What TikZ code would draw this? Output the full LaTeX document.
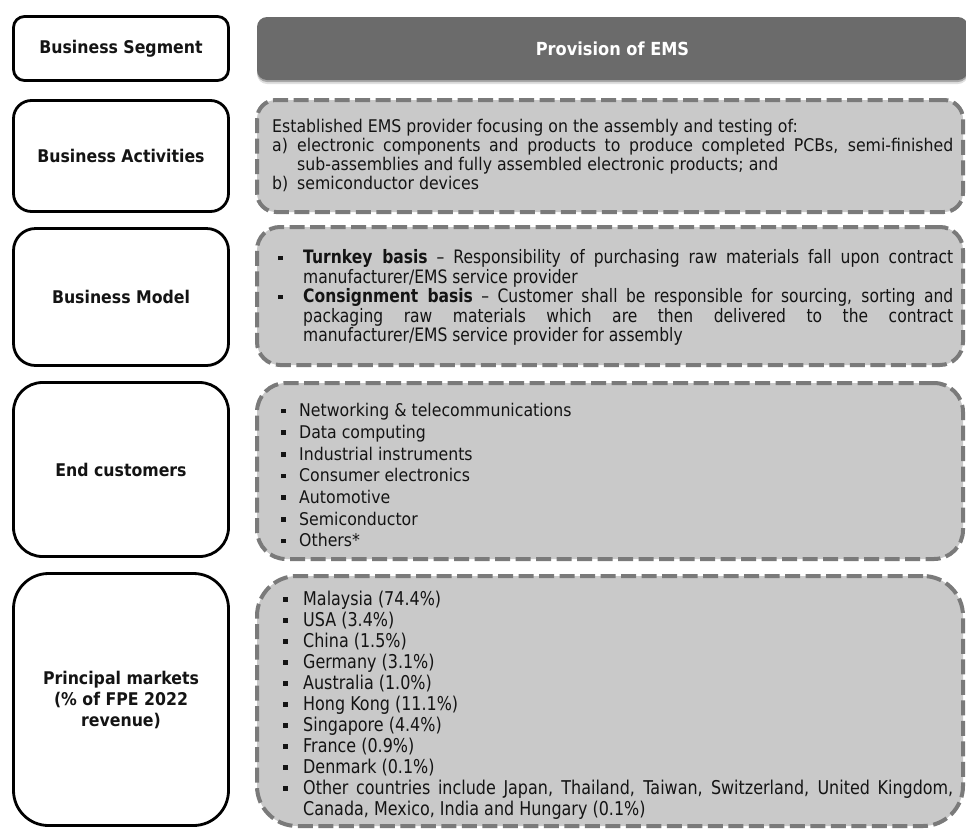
\documentclass[tikz,border=0pt]{standalone}
\usepackage{fontspec}
\setmainfont{DejaVu Sans}[FakeStretch=0.9]
\newfontfamily\condfont{DejaVu Sans}[FakeStretch=0.84]
\usetikzlibrary{shadows}

\definecolor{dashgray}{HTML}{7A7A7A}
\definecolor{panelgray}{HTML}{C9C9C9}
\definecolor{headgray}{HTML}{6B6B6B}
\definecolor{ink}{HTML}{141414}

% small square bullet and a hanging-indent list item
\newcommand\sqbullet{\rule[0.2em]{4.5pt}{4.5pt}}
\newlength\bulind
\newcommand\bitem[1]{\par\noindent\hangindent=\bulind\hangafter=1\makebox[\bulind][l]{\sqbullet}#1}

\begin{document}
\begin{tikzpicture}[x=1pt,y=-1pt,
  label box/.style={draw=black, line width=2.8pt, rounded corners=#1, fill=white,
    minimum width=215pt, inner sep=0pt, text=ink, align=center,
    font=\fontsize{17.5}{21}\selectfont\bfseries},
  panel/.style={draw=dashgray, line width=4pt, dash pattern=on 15pt off 5.5pt,
    rounded corners=#1, fill=panelgray, minimum width=706pt, inner sep=0pt},
  body/.style={text=ink, inner sep=0pt, anchor=west, align=justify}
]
\useasboundingbox (0,0) rectangle (966,828);

% left column: row titles
\node[label box=11, minimum height=64pt]  (seg) at (121,48.5) {Business Segment};
\node[label box=18, minimum height=111pt] (act) at (121,156)  {Business Activities};
\node[label box=22, minimum height=137pt] (mod) at (121,297)  {Business Model};
\node[label box=29, minimum height=174pt] (cus) at (121,469.5) {End customers};
\node[label box=35, minimum height=252pt] (mkt) at (121,699.5) {Principal markets\\(\% of FPE 2022\\revenue)};

% header bar
\node[fill=headgray, rounded corners=10pt, minimum width=711pt, minimum height=63pt,
  inner sep=0pt, text=white, font=\fontsize{18}{20}\selectfont\bfseries,
  drop shadow={shadow xshift=0pt, shadow yshift=-2pt, opacity=0.25, fill=black},
  drop shadow={shadow xshift=0pt, shadow yshift=-4pt, opacity=0.12, fill=black}]
  (head) at (612.5,48.5) {Provision of EMS};

% right column: dashed panels
\node[panel=19, minimum height=112pt] (pact) at (610,156) {};
\node[panel=23, minimum height=138pt] (pmod) at (610,296) {};
\node[panel=29, minimum height=176pt] (pcus) at (610,471) {};
\node[panel=40, minimum height=250pt] (pmkt) at (610,701) {};

% panel texts
\node[body, text width=681pt, font=\fontsize{17.5}{19}\selectfont] (tact) at (272,156) {%
  \parindent=0pt
  Established EMS provider focusing on the assembly and testing of:\par
  \noindent\hangindent=25pt\hangafter=1\makebox[25pt][l]{a)}electronic components and products to produce completed PCBs, semi-finished\linebreak sub-assemblies and fully assembled electronic products; and\par
  \noindent\makebox[25pt][l]{b)}semiconductor devices\par};

\node[body, text width=675pt, font=\condfont\fontsize{18.5}{19.5}\selectfont] (tmod) at (278,295) {%
  \parindent=0pt\setlength\bulind{25pt}%
  \bitem{\textbf{Turnkey basis} – Responsibility of purchasing raw materials fall upon contract\linebreak manufacturer/EMS service provider}
  \bitem{\textbf{Consignment basis} – Customer shall be responsible for sourcing, sorting and\linebreak packaging raw materials which are then delivered to the contract\linebreak manufacturer/EMS service provider for assembly}\par};

\node[body, text width=600pt, font=\fontsize{17.5}{21.7}\selectfont] (tcus) at (281,471) {%
  \parindent=0pt\setlength\bulind{18pt}%
  \bitem{Networking \& telecommunications}
  \bitem{Data computing}
  \bitem{Industrial instruments}
  \bitem{Consumer electronics}
  \bitem{Automotive}
  \bitem{Semiconductor}
  \bitem{Others*}\par};

\node[body, text width=670pt, font=\condfont\fontsize{19}{21}\selectfont] (tmkt) at (283,702) {%
  \parindent=0pt\setlength\bulind{20pt}%
  \bitem{Malaysia (74.4\%)}
  \bitem{USA (3.4\%)}
  \bitem{China (1.5\%)}
  \bitem{Germany (3.1\%)}
  \bitem{Australia (1.0\%)}
  \bitem{Hong Kong (11.1\%)}
  \bitem{Singapore (4.4\%)}
  \bitem{France (0.9\%)}
  \bitem{Denmark (0.1\%)}
  \bitem{Other countries include Japan, Thailand, Taiwan, Switzerland, United Kingdom,\linebreak Canada, Mexico, India and Hungary (0.1\%)}\par};
\end{tikzpicture}
\end{document}
